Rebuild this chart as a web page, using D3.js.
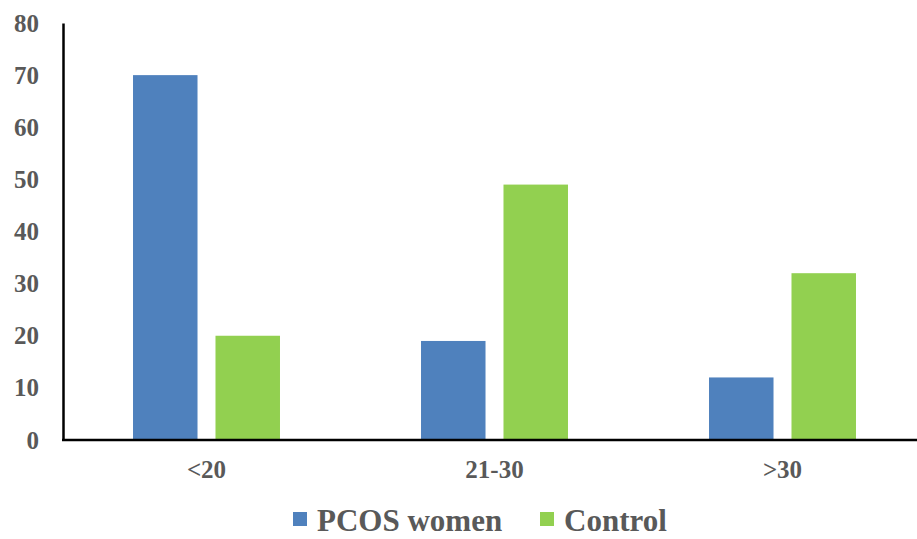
<!DOCTYPE html>
<html><head><meta charset="utf-8">
<script src="https://cdn.jsdelivr.net/npm/d3@7"></script>
<style>body{margin:0;background:#fff}svg{display:block}</style>
</head><body>
<svg id="c" width="917" height="539"></svg>
<script>
const categories = ["<20", "21-30", ">30"];
const seriesNames = ["PCOS women", "Control"];
const pcos = [70, 19, 12];
const control = [20, 49, 32];
const yTicks = [0, 10, 20, 30, 40, 50, 60, 70, 80];
const colors = ["#4F81BD", "#92D050"];

const svg = d3.select("#c");
const font = "'Liberation Serif','Times New Roman',serif";
const textColor = "#595959";

const x = d3.scaleBand().domain(categories).range([62.5, 926.5]);
const x1 = d3.scaleBand().domain(seriesNames).range([0, x.bandwidth()]).paddingInner(0.218).paddingOuter(0.855);
const y = d3.scaleLinear().domain([0, 80]).range([440, 23]);

const data = categories.map((c, i) => ({c, vals: [pcos[i], control[i]]}));

const g = svg.append("g");
data.forEach(d => {
  d.vals.forEach((v, j) => {
    g.append("rect")
      .attr("x", x(d.c) + x1(seriesNames[j]))
      .attr("width", x1.bandwidth())
      .attr("y", y(v))
      .attr("height", y(0) - y(v))
      .attr("fill", colors[j]);
  });
});

// y axis
const yAxis = svg.append("g").attr("transform", "translate(63,0)")
  .call(d3.axisLeft(y).tickValues(yTicks).tickSize(0).tickPadding(24));
yAxis.select(".domain").attr("stroke", "#000").attr("stroke-width", 2.5);
yAxis.selectAll("text").attr("font-family", font).attr("font-weight", "bold")
  .attr("font-size", 25).attr("fill", textColor);

// x axis
const xAxis = svg.append("g").attr("transform", "translate(0,440)")
  .call(d3.axisBottom(x).tickSize(0).tickPadding(20));
xAxis.select(".domain").attr("stroke", "#000").attr("stroke-width", 2.5).attr("d", "M62,0H917");
xAxis.selectAll("text").attr("font-family", font).attr("font-weight", "bold")
  .attr("font-size", 25).attr("fill", textColor);

// legend
const legendX = [293, 540];
seriesNames.forEach((s, j) => {
  svg.append("rect").attr("x", legendX[j]).attr("y", 512).attr("width", 14).attr("height", 14).attr("fill", colors[j]);
  svg.append("text").attr("x", legendX[j] + 24).attr("y", 531)
    .attr("font-family", font).attr("font-weight", "bold").attr("font-size", 31)
    .attr("fill", textColor).text(s);
});
</script>
</body></html>
